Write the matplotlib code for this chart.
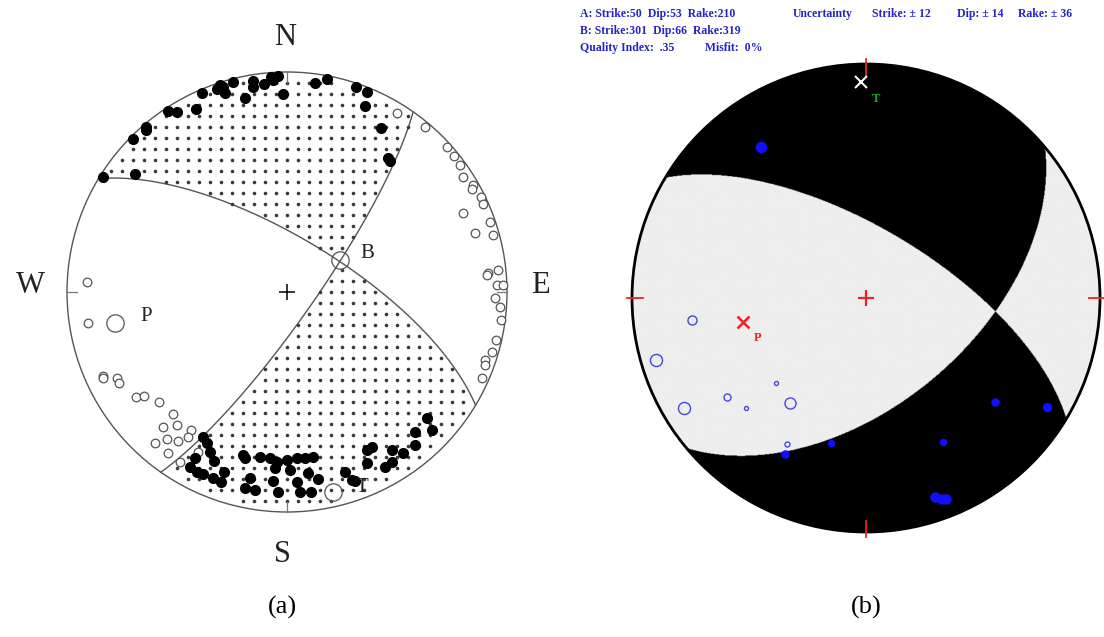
import numpy as np
import matplotlib
matplotlib.use("Agg")
import matplotlib.pyplot as plt
from matplotlib.patches import Circle
from matplotlib.colors import ListedColormap

# ---------------- (a) composite first-motion solution ----------------
# nodal planes (strike, dip) read off the net
a_strike = [301, 35]
a_dip = [70, 80]

# first motions as (east, north) on the unit net
a_comp_x = [-0.838, -0.691, -0.699, -0.641, -0.641, -0.542, -0.499, -0.414, -0.388, -0.320,
            -0.305, -0.290, -0.282, -0.244, -0.191, -0.156, -0.156, -0.105, -0.074, -0.040,
            -0.062, -0.020, 0.129, 0.183, 0.314, 0.362, 0.355, 0.426, 0.458, 0.468,
            -0.383, -0.365, -0.350, -0.332, -0.418, -0.441, -0.410, -0.380, -0.335, -0.301,
            -0.286, -0.201, -0.191, -0.123, -0.077, -0.047, -0.001, 0.044, 0.082, 0.120,
            -0.055, 0.014, -0.168, -0.191, -0.145, -0.062, -0.040, 0.044, 0.059, 0.097,
            0.108, 0.142, 0.264, 0.294, 0.309, 0.362, 0.385, 0.362, 0.445, 0.476,
            0.476, 0.529, 0.582, 0.582, 0.635, 0.658]
a_comp_y = [0.521, 0.535, 0.695, 0.736, 0.751, 0.824, 0.818, 0.833, 0.906, 0.921,
            0.941, 0.930, 0.906, 0.953, 0.880, 0.960, 0.933, 0.944, 0.979, 0.982,
            0.964, 0.900, 0.949, 0.967, 0.930, 0.910, 0.845, 0.744, 0.608, 0.595,
            -0.658, -0.688, -0.726, -0.767, -0.756, -0.794, -0.817, -0.827, -0.847, -0.862,
            -0.817, -0.741, -0.756, -0.749, -0.756, -0.771, -0.764, -0.756, -0.756, -0.749,
            -0.801, -0.809, -0.847, -0.892, -0.900, -0.858, -0.908, -0.862, -0.908, -0.824,
            -0.908, -0.851, -0.817, -0.855, -0.858, -0.718, -0.703, -0.779, -0.794, -0.771,
            -0.718, -0.733, -0.695, -0.635, -0.574, -0.627]
a_dil_x = [0.501, 0.627, 0.726, 0.759, 0.786, 0.801, 0.847, 0.840, 0.880, 0.892,
           0.801, 0.923, 0.855, 0.938, 0.915, 0.960, 0.908, 0.953, 0.983, 0.945,
           0.968, 0.971, 0.950, 0.930, 0.900, 0.900, 0.885,
           -0.910, -0.903, -0.838, -0.835, -0.771, -0.762, -0.686, -0.650, -0.580, -0.520,
           -0.562, -0.501, -0.438, -0.600, -0.547, -0.494, -0.449, -0.540, -0.486, -0.403]
a_dil_y = [0.812, 0.751, 0.658, 0.618, 0.577, 0.524, 0.486, 0.467, 0.433, 0.400,
           0.358, 0.320, 0.267, 0.259, 0.088, 0.100, 0.077, 0.032, 0.032, -0.029,
           -0.067, -0.127, -0.218, -0.271, -0.309, -0.332, -0.392,
           0.047, -0.142, -0.382, -0.392, -0.392, -0.415, -0.479, -0.473, -0.499, -0.555,
           -0.612, -0.605, -0.627, -0.688, -0.670, -0.676, -0.658, -0.733, -0.771, -0.726]
a_axes_name = ["P", "T", "B"]
a_axes_x = [-0.782, 0.210, 0.241]
a_axes_y = [-0.142, -0.908, 0.145]

# ---------------- (b) single-event solution ----------------
b_plane = ["A", "B"]
b_strike = [50, 301]
b_dip = [53, 66]
b_rake = [210, 319]
b_err = {"Strike": 12, "Dip": 14, "Rake": 36}
b_quality = ".35"
b_misfit = "0%"

b_comp_x = [-0.449, -0.346, -0.151, 0.551, 0.772, 0.330, 0.295, 0.324, 0.342]
b_comp_y = [0.647, -0.668, -0.618, -0.443, -0.467, -0.614, -0.849, -0.859, -0.860]
b_comp_w = [5.0, 3.5, 3.0, 3.5, 4.0, 3.0, 4.5, 4.5, 4.5]
b_dil_x = [-0.745, -0.897, -0.778, -0.385, -0.593, -0.514, -0.325, -0.339]
b_dil_y = [-0.094, -0.265, -0.471, -0.365, -0.422, -0.471, -0.447, -0.624]
b_dil_w = [4.5, 6.0, 6.0, 2.0, 3.5, 2.0, 5.5, 2.5]
b_p = (-0.524, -0.101)
b_t = (-0.021, 0.924)


def plane_vectors(strike, dip):
    s = np.radians(strike)
    d = np.radians(dip)
    sv = np.array([np.cos(s), np.sin(s), 0.0])
    dd = s + np.pi / 2
    dv = np.array([np.cos(d) * np.cos(dd), np.cos(d) * np.sin(dd), np.sin(d)])
    return sv, dv


def to_net(v):
    # lower hemisphere, equal-area; v = (north, east, down)
    n, e, dn = v
    h = np.hypot(n, e)
    h = np.where(h == 0, 1, h)
    r = np.sqrt(np.clip(1 - dn, 0, None))
    return r * e / h, r * n / h


def from_net(x, y):
    rho2 = x ** 2 + y ** 2
    dn = 1 - rho2
    h = np.sqrt(np.clip(1 - dn ** 2, 0, None))
    rho = np.sqrt(rho2)
    rho = np.where(rho == 0, 1, rho)
    return np.stack([h * y / rho, h * x / rho, dn])


def great_circle(strike, dip):
    sv, dv = plane_vectors(strike, dip)
    t = np.linspace(0, np.pi, 300)
    v = np.outer(sv, np.cos(t)) + np.outer(dv, np.sin(t))
    return to_net(v)


def polarity(strikes, dips, x, y):
    v = from_net(np.asarray(x, float), np.asarray(y, float))
    f = np.ones_like(v[0])
    for s, d in zip(strikes, dips):
        sv, dv = plane_vectors(s, d)
        f = f * np.tensordot(np.cross(sv, dv), v, axes=1)
    return f


fig = plt.figure(figsize=(11.04, 6.37), dpi=100)
W, H = 1104, 637
serif = "Liberation Serif"


def make_ax(cx, cy, R, half=260):
    ax = fig.add_axes([(cx - half) / W, (H - cy - half) / H, 2 * half / W, 2 * half / H])
    lim = half / R
    ax.set_xlim(-lim, lim)
    ax.set_ylim(-lim, lim)
    ax.set_aspect("equal")
    ax.axis("off")
    return ax


# ---- panel (a) ----
ax = make_ax(287, 292, 220)
ax.add_patch(Circle((0, 0), 1, fill=False, ec="#555555", lw=1.0))
for s, d in zip(a_strike, a_dip):
    gx, gy = great_circle(s, d)
    ax.plot(gx, gy, color="#555555", lw=1.0)

t_sign = np.sign(polarity(a_strike, a_dip, a_axes_x[1], a_axes_y[1]))
g = np.arange(-1.0, 1.001, 0.05)
GX, GY = np.meshgrid(g, g)
inside = GX ** 2 + GY ** 2 < 0.975 ** 2
comp = np.zeros_like(GX, bool)
comp[inside] = polarity(a_strike, a_dip, GX[inside], GY[inside]) * t_sign > 0
ax.plot(GX[comp], GY[comp], "o", color="#3a3a3a", ms=2.6, mew=0)

for a in (0, 90, 180, 270):
    ang = np.radians(a)
    ax.plot([0.955 * np.sin(ang), np.sin(ang)], [0.955 * np.cos(ang), np.cos(ang)],
            color="#777777", lw=0.9)

ax.plot(a_dil_x, a_dil_y, "o", mfc="white", mec="#555555", mew=0.9, ms=6.2)
ax.plot(a_comp_x, a_comp_y, "o", color="black", ms=7)
ax.plot(a_axes_x, a_axes_y, "o", mfc="none", mec="#555555", mew=0.9, ms=12.5)
ax.plot(0, 0, "+", color="black", ms=11, mew=1.1)

lab = dict(family=serif, ha="center", va="center", color="#222222")
ax.text(-0.01, 1.155, "N", fontsize=22, **lab)
ax.text(-0.02, -1.195, "S", fontsize=22, **lab)
ax.text(-1.168, 0.03, "W", fontsize=22, **lab)
ax.text(1.15, 0.03, "E", fontsize=22, **lab)
offs = [(0.14, 0.03), (0.13, 0.02), (0.125, 0.03)]
for name, x, y, (dx, dy) in zip(a_axes_name, a_axes_x, a_axes_y, offs):
    ax.text(x + dx, y + dy, name, fontsize=15, **lab)

# ---- panel (b) ----
bx = make_ax(866, 298, 234)
rim = Circle((0, 0), 1, transform=bx.transData)
xs = np.linspace(-1, 1, 801)
X, Y = np.meshgrid(xs, xs)
t_sign_b = np.sign(polarity(b_strike, b_dip, b_t[0], b_t[1]))
pol = (polarity(b_strike, b_dip, X, Y) * t_sign_b > 0).astype(int)
img = bx.imshow(pol, extent=(-1, 1, -1, 1), origin="lower",
                cmap=ListedColormap(["#eeeeee", "black"]), interpolation="bilinear")
img.set_clip_path(rim)
bx.add_patch(Circle((0, 0), 1, fill=False, ec="black", lw=2))
lim = 260 / 234
bx.set_xlim(-lim, lim)
bx.set_ylim(-lim, lim)

for a in (0, 90, 180, 270):
    ang = np.radians(a)
    bx.plot([0.955 * np.sin(ang), 1.02 * np.sin(ang)], [0.955 * np.cos(ang), 1.02 * np.cos(ang)],
            color="#ee2222", lw=1.3)
bx.plot(0, 0, "+", color="#ee2222", ms=11, mew=1.6)

for x, y, w in zip(b_dil_x, b_dil_y, b_dil_w):
    bx.plot(x, y, "o", mfc="none", mec="#4848d8", mew=1.0, ms=w * 1.45)
for x, y, w in zip(b_comp_x, b_comp_y, b_comp_w):
    bx.plot(x, y, "o", color="#1010ff", ms=w * 1.45)

bx.plot(*b_p, "x", color="#ee2222", ms=8, mew=1.8)
bx.plot(*b_t, "x", color="white", ms=8, mew=1.5)
bx.text(b_p[0] + 0.06, b_p[1] - 0.07, "P", color="#ee2222", fontsize=9,
        family=serif, weight="bold", ha="center", va="center")
bx.text(b_t[0] + 0.065, b_t[1] - 0.075, "T", color="#22aa22", fontsize=9,
        family=serif, weight="bold", ha="center", va="center")

# header text
hdr = dict(family=serif, weight="bold", color="#2424c8", fontsize=8.5, va="center", ha="left")
for i, (nm, s, d, r) in enumerate(zip(b_plane, b_strike, b_dip, b_rake)):
    fig.text(580 / W, 1 - (14 + 17 * i) / H, f"{nm}: Strike:{s}  Dip:{d}  Rake:{r}", **hdr)
fig.text(580 / W, 1 - 48 / H, f"Quality Index:  {b_quality}", **hdr)
fig.text(705 / W, 1 - 48 / H, f"Misfit:  {b_misfit}", **hdr)
fig.text(793 / W, 1 - 14 / H, "Uncertainty", **hdr)
for x0, (k, v) in zip([872, 957, 1018], b_err.items()):
    fig.text(x0 / W, 1 - 14 / H, f"{k}: \u00b1 {v}", **hdr)

fig.text(282 / W, 1 - 607 / H, "(a)", family=serif, fontsize=19, ha="center", va="center")
fig.text(866 / W, 1 - 607 / H, "(b)", family=serif, fontsize=19, ha="center", va="center")

fig.savefig("out.png", dpi=100)
